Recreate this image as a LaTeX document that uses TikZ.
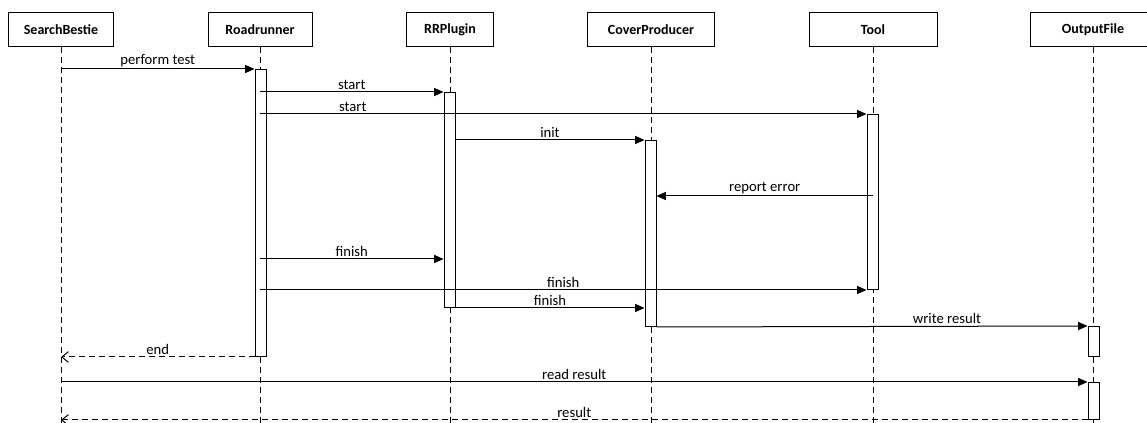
\documentclass[tikz,border=0pt]{standalone}
\usepackage{fontspec}
\setmainfont{Carlito}
\usetikzlibrary{arrows.meta}
\begin{document}
\begin{tikzpicture}[x=0.75pt,y=-0.75pt,line width=0.75pt,
  font=\fontsize{11}{13}\selectfont,
  party/.style={draw,minimum height=25.5pt,inner sep=0pt,font=\fontsize{10.5}{12}\selectfont\bfseries},
  life/.style={dashed,dash pattern=on 4.5pt off 3pt},
  act/.style={draw,fill=white,minimum width=8.25pt,inner sep=0pt,anchor=north},
  msg/.style={-{Triangle[length=7pt,width=6pt]}},
  ret/.style={dashed,dash pattern=on 4.5pt off 3pt,-{Straight Barb[length=5pt,width=8pt]}},
  lbl/.style={above,inner sep=1.5pt}]
  \clip (0,0) rectangle (1147,423);
  % participants
  \node[party,minimum width=78.75pt] (sb) at (61,30) {SearchBestie};
  \node[party,minimum width=78pt] (rr) at (260,30) {Roadrunner};
  \node[party,minimum width=65.25pt] (plg) at (450,30) {RRPlugin};
  \node[party,minimum width=95.25pt] (cov) at (651,30) {CoverProducer};
  \node[party,minimum width=96pt] (tool) at (873,30) {Tool};
  \node[party,minimum width=94.5pt] (out) at (1093,30) {OutputFile};
  % lifelines
  \coordinate (bot) at (0,425);
  \foreach \p in {sb,rr,plg,cov,tool,out}
    \draw[life] (\p) ++(0,17) -- (\p |- bot);
  % activations
  \node[act,minimum height=215.25pt] (rrA) at (260.5,69) {};
  \node[act,minimum height=161.25pt] (plgA) at (449.5,92) {};
  \node[act,minimum height=131.25pt] (toolA) at (872.5,114) {};
  \node[act,minimum height=139.5pt] (covA) at (650.5,140) {};
  \node[act,minimum height=22.5pt] (outA) at (1093.5,326) {};
  \node[act,minimum height=27.75pt] (outB) at (1093.5,382) {};
  % messages
  \draw[msg] (sb |- rrA.north) -- node[lbl] {perform test} (rrA.north west);
  \draw[msg] (rr |- plgA.north) -- node[lbl] {start} (plgA.north west);
  \draw[msg] (rr |- toolA.north) -- node[lbl,pos=0.153] {start} (toolA.north west);
  \draw[msg] (plgA.east |- covA.north) -- node[lbl] {init} (covA.north west);
  \coordinate (err) at (0,196);
  \draw[msg] (tool |- err) -- node[lbl] {report error} (covA.east |- err);
  \coordinate (fin) at (0,259);
  \draw[msg] (rr |- fin) -- node[lbl] {finish} (plgA.west |- fin);
  \draw[msg] (rr |- toolA.south) -- node[lbl] {finish} (toolA.south west);
  \draw[msg] (plgA.south east) -- node[lbl] {finish} (covA.west |- plgA.south);
  \draw[msg] (covA.south east) -- node[lbl,pos=0.674] {write result} (outA.north west);
  \draw[ret] (rrA.south west) -- node[lbl] {end} (sb |- rrA.south);
  \draw[msg] (sb |- outB.north) -- node[lbl] {read result} (outB.north west);
  \draw[ret] (outB.south west) -- node[lbl] {result} (sb |- outB.south);
\end{tikzpicture}
\end{document}
